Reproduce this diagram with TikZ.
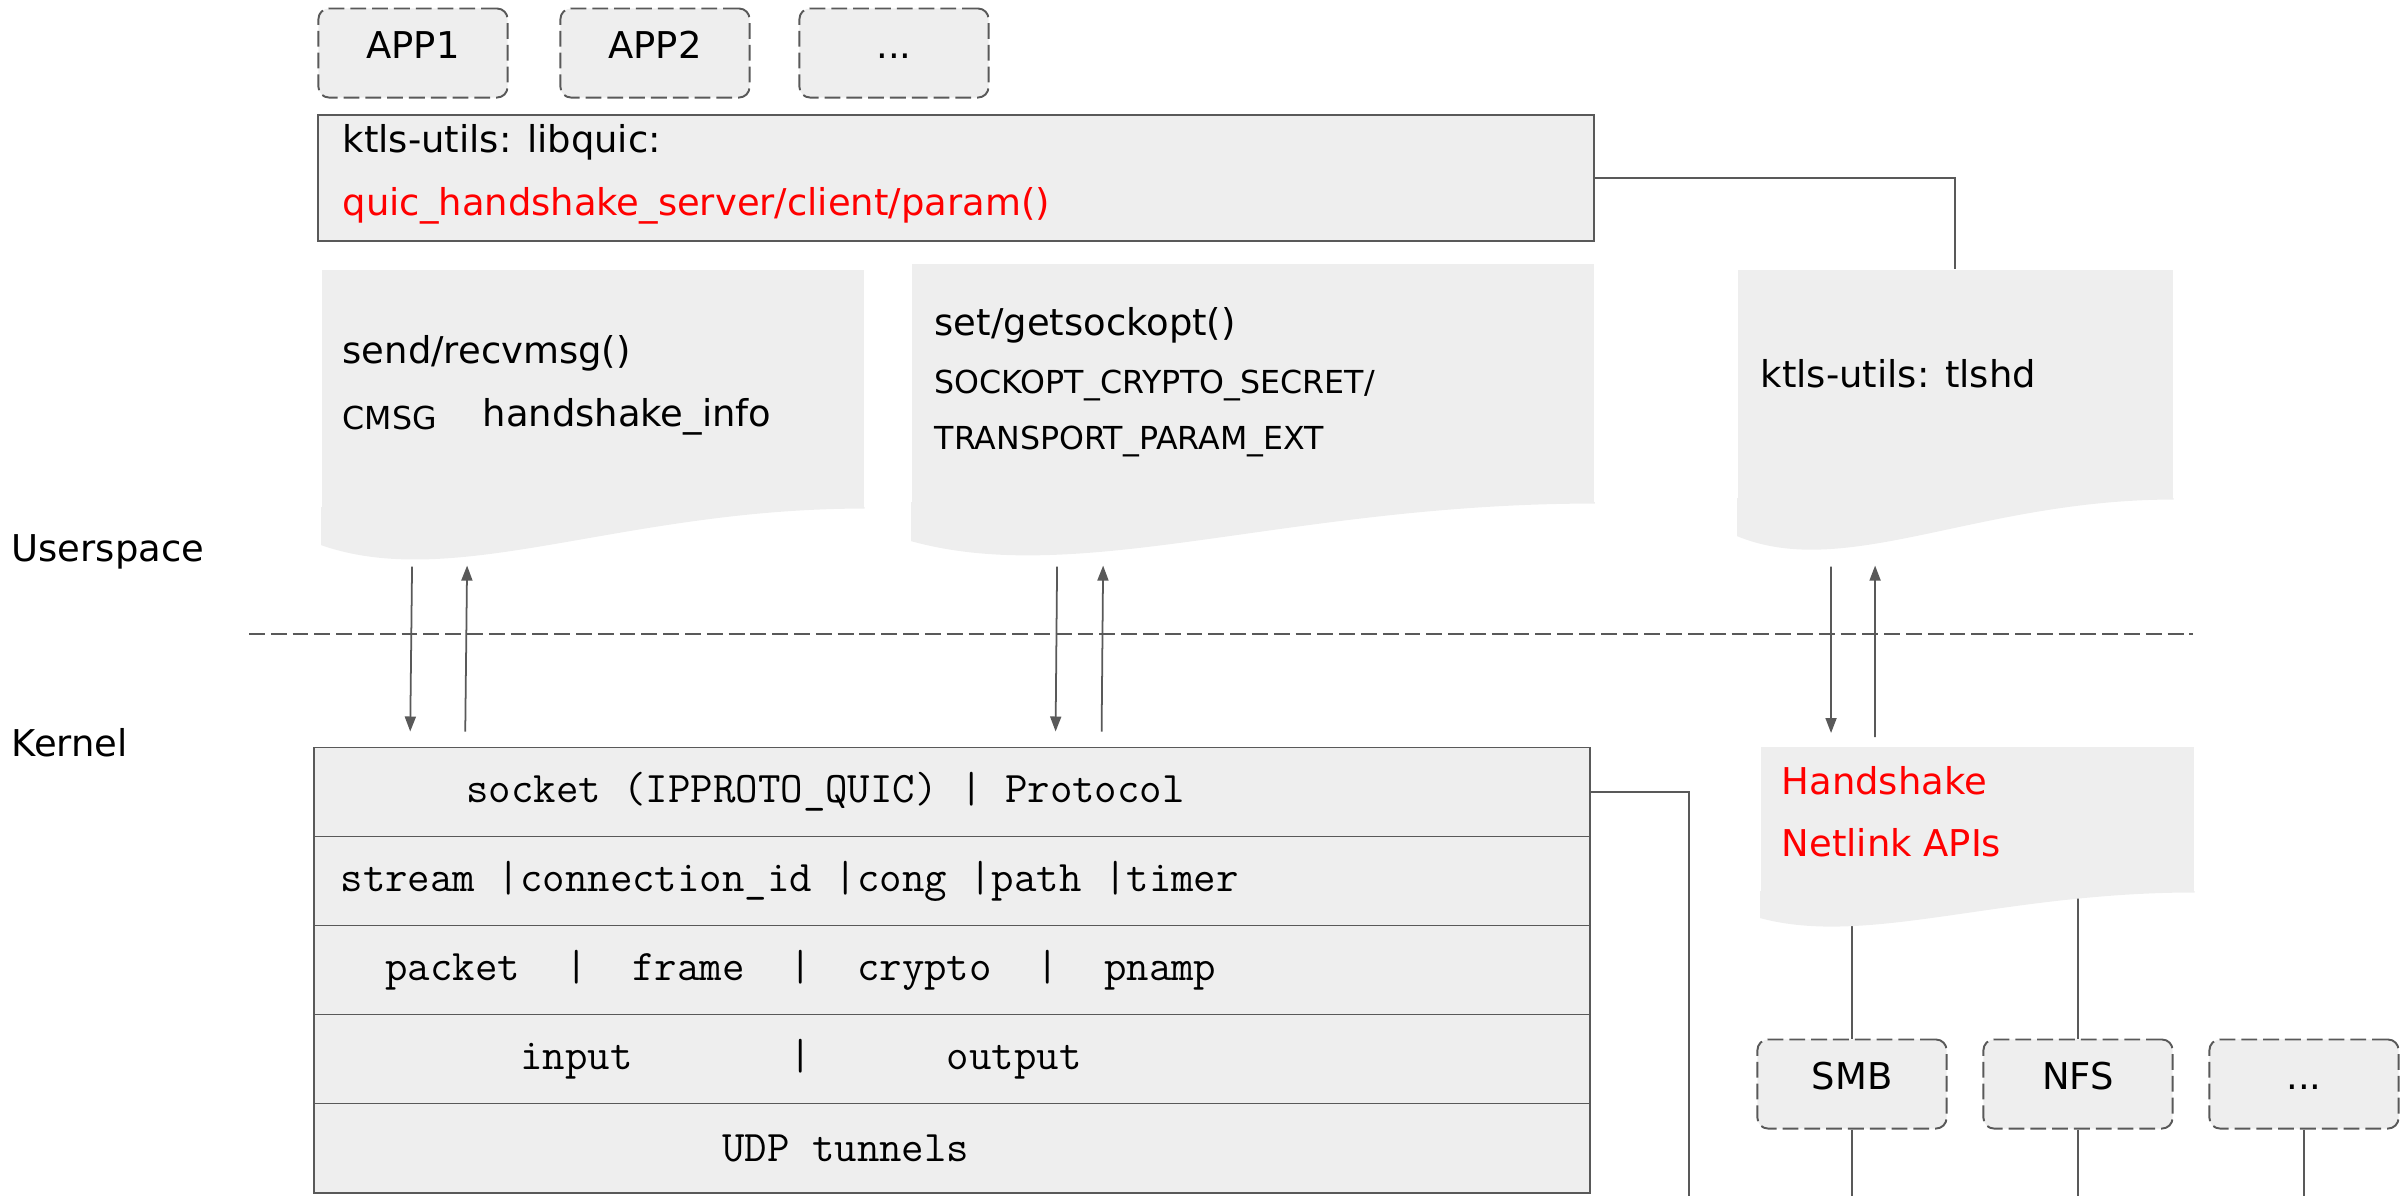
\documentclass[tikz,border=0pt]{standalone}
\usepackage{fontspec}
\setmainfont{DejaVu Sans}
\usetikzlibrary{arrows.meta,backgrounds}
\definecolor{boxgray}{HTML}{EEEEEE}
\definecolor{linegray}{HTML}{595959}
\definecolor{apired}{HTML}{FF0000}
\newcommand\monorow{\fontsize{12.4}{14}\selectfont\ttfamily}
% n character cells of the typewriter font
\newcommand\msp[1]{\hspace*{#1\fontcharwd\font`x}}

\begin{document}
\begin{tikzpicture}
  [x=0.01cm,y=-0.01cm,font=\fontsize{10.5}{12.6}\selectfont,
   every node/.style={inner sep=0pt},
   link/.style={draw=linegray,line width=0.5pt},
   arr/.style={link,-{Triangle[length=0.15cm,width=0.11cm]}},
   app/.style={draw=linegray,fill=boxgray,line width=0.55pt,dash pattern=on 4.5pt off 1.7pt,
     rounded corners=3pt,minimum width=1.89cm,minimum height=0.89cm,text height=0.3cm,text depth=0.19cm},
   box/.style={draw=linegray,fill=boxgray,line width=0.55pt},
   doc/.style={fill=boxgray,anchor=north west},
   row/.style={box,minimum height=0.89cm,text width=12.67cm,inner xsep=0.04cm,align=left,font=\monorow},
   txt/.style={anchor=west,text height=0.76em,text depth=0.24em},
   smalltxt/.style={txt,font=\fontsize{9}{11}\selectfont},
   redtxt/.style={txt,text=apired}]
  \useasboundingbox (0,0) rectangle (2408,1196);

  % userspace
  \node[app] (app1) at (413,53) {APP1};
  \node[app] (app2) at (655,53) {APP2};
  \node[app] (app3) at (894,53) {...};
  \node[box,minimum width=12.76cm,minimum height=1.26cm] (libquic) at (956,178) {};
  \node[txt] (libname) at (342,143) {ktls-utils: libquic:};
  \node[redtxt] (libapi) at (342,206) {quic\_handshake\_server/client/param()};

  \node[doc,minimum width=5.42cm,minimum height=2.38cm] (sendbox) at (321,269) {};
  \node[doc,minimum width=6.82cm,minimum height=2.39cm] (setbox) at (911,263) {};
  \node[doc,minimum width=4.35cm,minimum height=2.29cm] (tlshd) at (1737,269) {};
  \node[doc,minimum width=4.33cm,minimum height=1.45cm] (netlink) at (1760,746) {};
  \foreach \n/\r/\c/\a/\b in {sendbox/38/47/135/244,setbox/39/47/170/307,tlshd/38/45/109/196,netlink/27/29/108/195}
    \fill[boxgray] ([yshift=0.4pt]\n.south east) -- ([yshift=0.4pt]\n.south west)
      -- ++(0,\r) .. controls +(\a,\c) and +(-\b,0) .. (\n.south east) -- cycle;

  \node[txt] (sendname) at (342,354) {send/recvmsg()};
  \node[smalltxt] (cmsg) at (342,420) {CMSG};
  \node[txt] (hsinfo) at (482,417) {handshake\_info};
  \node[txt] (setname) at (934,326) {set/getsockopt()};
  \node[smalltxt] (secret) at (934,384) {SOCKOPT\_CRYPTO\_SECRET/};
  \node[smalltxt] (tparam) at (934,440) {TRANSPORT\_PARAM\_EXT};
  \node[txt] (tlsname) at (1760,378) {ktls-utils: tlshd};
  \node[redtxt] (hsname) at (1781,785) {Handshake};
  \node[redtxt] (nlname) at (1781,847) {Netlink APIs};

  \node[txt] (user) at (11,552) {Userspace};
  \node[txt] (kern) at (11,747) {Kernel};

  % kernel
  \node[row] (sock) at (952,792) {\hspace*{1.48cm}socket\msp{1}(IPPROTO\_QUIC)\msp{1}|\msp{1}Protocol};
  \node[row] (core) at (952,881) {\msp{1}stream\msp{1}|connection\_id\msp{1}|cong\msp{1}|path\msp{1}|timer};
  \node[row] (pkt) at (952,970) {\msp{3}packet\msp{2}|\msp{2}frame\msp{2}|\msp{2}crypto\msp{2}|\msp{2}pnamp};
  \node[row] (io) at (952,1059) {\msp{9}input\msp{7}|\msp{6}output};
  \node[row] (udp) at (952,1148) {\msp{18}UDP\msp{1}tunnels};

  \node[app] (smb) at (1852,1084) {SMB};
  \node[app] (nfs) at (2078,1084) {NFS};
  \node[app] (more) at (2304,1084) {...};

  \coordinate (kdown) at (1689,1196);
  \coordinate (sepl) at (249,634);
  \coordinate (sepr) at (2193,634);

  \draw[link,dash pattern=on 4.5pt off 1.7pt] (sepl) -- (sepr);
  \draw[link] (libquic.east) -| (tlshd.north);
  \draw[link] (sock.east) -| (kdown);
  \foreach \b in {smb,nfs,more}
    \draw[link] (\b.south) -- (\b.south |- kdown);
  \begin{pgfonlayer}{background}
    \foreach \b in {smb,nfs}
      \draw[link] (\b.north) -- (\b.north |- netlink.center);
  \end{pgfonlayer}

  \draw[arr] ([xshift=0.91cm,yshift=-0.58cm]sendbox.south west) -- ([xshift=0.97cm,yshift=0.15cm]sock.north west);
  \draw[arr] ([xshift=1.52cm,yshift=0.15cm]sock.north west) -- ([xshift=1.46cm,yshift=-0.57cm]sendbox.south west);
  \draw[arr] ([xshift=1.46cm,yshift=-0.63cm]setbox.south west) -- ([xshift=7.42cm,yshift=0.15cm]sock.north west);
  \draw[arr] ([xshift=7.88cm,yshift=0.15cm]sock.north west) -- ([xshift=1.92cm,yshift=-0.62cm]setbox.south west);
  \draw[arr] ([xshift=0.94cm,yshift=-0.67cm]tlshd.south west) -- ([xshift=0.71cm,yshift=0.13cm]netlink.north west);
  \draw[arr] ([xshift=1.15cm,yshift=0.09cm]netlink.north west) -- ([xshift=1.38cm,yshift=-0.66cm]tlshd.south west);

\end{tikzpicture}
\end{document}
